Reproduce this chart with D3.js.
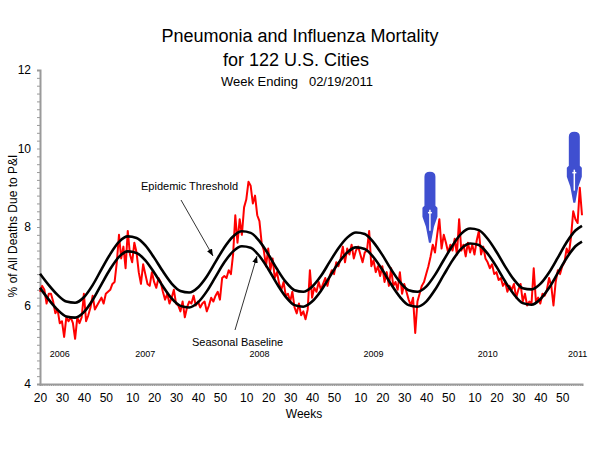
<!DOCTYPE html>
<html>
<head>
<meta charset="utf-8">
<script src="https://cdn.jsdelivr.net/npm/d3@7/dist/d3.min.js"></script>
<style>
  html, body { margin: 0; padding: 0; background: #fff; }
  #chart { width: 600px; height: 450px; }
  text { font-family: Arial, "Liberation Sans", sans-serif; }
</style>
</head>
<body>
<div id="chart"></div>
<script>
// weekly % of deaths due to P&I, starting 2006 week 20 (index 0) up to 2011 week 7
var piPct = [
  6.35, 6.50, 6.40, 6.05, 6.30, 6.30, 6.10, 5.80, 5.90, 5.55,
  5.60, 5.20, 5.70, 5.60, 5.70, 5.55, 5.15, 5.70, 5.55, 5.70,
  6.30, 5.60, 5.75, 5.95, 6.25, 5.90, 6.00, 6.10, 6.20, 6.05,
  6.30, 6.35, 6.40, 6.55, 6.60, 7.10, 7.80, 7.20, 7.50, 6.95,
  7.90, 7.30, 7.10, 7.60, 7.35, 6.85, 6.55, 7.05, 6.80, 6.55,
  6.50, 6.85, 6.60, 6.45, 6.70, 6.60, 6.35, 6.15, 6.30, 6.05,
  6.20, 6.40, 6.05, 6.00, 5.85, 6.10, 5.70, 5.95, 6.10, 6.05,
  6.25, 6.00, 6.10, 5.95, 6.05, 6.10, 5.85, 6.00, 6.20, 6.10,
  6.25, 6.35, 6.15, 6.70, 6.75, 6.70, 6.90, 6.80, 7.30, 8.30,
  7.60, 8.20, 7.80, 8.50, 8.70, 9.15, 9.05, 8.60, 8.80, 8.30,
  8.15, 7.60, 7.40, 7.00, 7.45, 6.90, 7.20, 6.70, 6.85, 6.55,
  6.40, 6.60, 6.25, 6.30, 6.10, 6.35, 5.95, 5.80, 6.05, 5.75,
  5.85, 5.65, 5.90, 6.90, 6.20, 6.45, 6.35, 6.60, 6.40, 6.55,
  6.70, 6.50, 6.75, 6.90, 6.80, 7.10, 7.00, 7.20, 7.50, 7.10,
  7.45, 7.30, 7.55, 7.20, 7.40, 7.50, 7.30, 7.10, 7.35, 7.40,
  7.90, 7.00, 7.15, 6.85, 7.00, 6.75, 7.00, 6.60, 6.85, 6.50,
  6.95, 6.50, 6.60, 6.40, 6.85, 6.30, 6.55, 6.35, 6.15, 6.00,
  6.20, 5.30, 6.10, 6.30, 6.50, 6.60, 6.80, 7.00, 7.25, 7.55,
  7.35, 7.80, 8.20, 7.45, 7.80, 7.60, 7.35, 7.55, 7.40, 7.70,
  7.30, 8.20, 7.40, 7.55, 7.25, 7.60, 7.35, 7.55, 7.30, 7.65,
  7.90, 7.30, 7.50, 7.20, 7.10, 6.95, 7.05, 6.80, 6.85, 6.65,
  6.70, 6.50, 6.60, 6.35, 6.50, 6.40, 6.55, 6.20, 6.40, 6.55,
  6.10, 6.30, 6.00, 6.10, 6.05, 6.95, 6.10, 6.20, 6.05, 6.30,
  6.25, 6.40, 6.70, 6.50, 6.00, 6.60, 6.90, 6.80, 7.00, 7.10,
  7.45, 7.30, 7.75, 8.40, 8.20, 8.10, 9.00, 8.30
];

// model curves read every 4 weeks
var modelIdx = [
  0, 4, 8, 12, 16, 20, 24, 28, 32, 36, 40, 44, 48, 52, 56, 60,
  64, 68, 72, 76, 80, 84, 88, 92, 96, 100, 104, 108, 112, 116, 120, 124,
  128, 132, 136, 140, 144, 148, 152, 156, 160, 164, 168, 172, 176, 180, 184, 188,
  192, 196, 200, 204, 208, 212, 216, 220, 224, 228, 232, 236, 240, 244, 247
];
var baseline = [
  6.45, 6.15, 5.89, 5.72, 5.69, 5.83, 6.14, 6.54, 6.93, 7.24, 7.38, 7.34, 7.15, 6.84, 6.49, 6.18,
  5.99, 5.95, 6.08, 6.36, 6.73, 7.10, 7.38, 7.51, 7.47, 7.26, 6.93, 6.55, 6.22, 6.01, 5.97, 6.10,
  6.37, 6.73, 7.08, 7.35, 7.48, 7.44, 7.23, 6.91, 6.54, 6.22, 6.01, 5.97, 6.10, 6.40, 6.78, 7.15,
  7.45, 7.58, 7.54, 7.32, 6.99, 6.61, 6.28, 6.06, 6.02, 6.16, 6.45, 6.83, 7.21, 7.51, 7.63
];
var threshold = [
  6.81, 6.52, 6.27, 6.10, 6.07, 6.21, 6.52, 6.92, 7.31, 7.62, 7.76, 7.72, 7.53, 7.22, 6.87, 6.56,
  6.37, 6.33, 6.46, 6.74, 7.11, 7.48, 7.76, 7.89, 7.85, 7.64, 7.31, 6.93, 6.60, 6.39, 6.35, 6.48,
  6.75, 7.11, 7.46, 7.73, 7.86, 7.82, 7.61, 7.29, 6.92, 6.60, 6.39, 6.35, 6.48, 6.78, 7.16, 7.53,
  7.83, 7.96, 7.92, 7.70, 7.37, 6.99, 6.66, 6.44, 6.41, 6.55, 6.84, 7.22, 7.61, 7.91, 8.03
];

var tickIdx = [0, 10, 20, 30, 42, 52, 62, 72, 82, 94, 104, 114, 124, 134,
  146, 156, 166, 176, 186, 198, 208, 218, 228, 238];
var tickLabels = ['20', '30', '40', '50', '10', '20', '30', '40', '50', '10', '20', '30', '40', '50',
  '10', '20', '30', '40', '50', '10', '20', '30', '40', '50'];
var yearIdx = [9, 48, 100, 152, 204, 245];
var yearLabels = ['2006', '2007', '2008', '2009', '2010', '2011'];
var yTicks = [4, 6, 8, 10, 12];

// blue markers: week index and value at the arrow tip
var markIdx = [177.7, 243.5];
var markTip = [7.6, 8.62];

var chart = {
  init: function () {
    var svg = d3.select('#chart').append('svg').attr('width', 600).attr('height', 450);
    this.x = d3.scaleLinear().domain([0, 247]).range([40, 582]);
    this.y = d3.scaleLinear().domain([4, 12]).range([384, 70]);
    this.titles(svg);
    this.axes(svg);
    this.lines(svg);
    this.notes(svg);
  },
  titles: function (svg) {
    svg.append('text').attr('x', 300).attr('y', 42).attr('text-anchor', 'middle')
      .style('font-size', '18px').text('Pneumonia and Influenza Mortality');
    svg.append('text').attr('x', 296).attr('y', 66).attr('text-anchor', 'middle')
      .style('font-size', '18px').text('for 122 U.S. Cities');
    svg.append('text').attr('x', 297).attr('y', 86).attr('text-anchor', 'middle')
      .style('font-size', '13px').attr('xml:space', 'preserve').text('Week Ending   02/19/2011');
    svg.append('text').attr('transform', 'translate(17,' + 226 + ') rotate(-90)')
      .attr('text-anchor', 'middle').style('font-size', '12px').text('% of All Deaths Due to P&I');
    svg.append('text').attr('x', 304).attr('y', 418).attr('text-anchor', 'middle')
      .style('font-size', '12px').text('Weeks');
  },
  axes: function (svg) {
    var x = this.x, y = this.y;
    var minor = svg.append('g').attr('transform', 'translate(40,0)')
      .call(d3.axisLeft(y).tickValues(d3.range(4, 12.01, 0.2)).tickSize(3).tickFormat(''));
    var major = svg.append('g').attr('transform', 'translate(40,0)')
      .call(d3.axisLeft(y).tickValues(yTicks).tickSize(0).tickPadding(9));
    var wk = svg.append('g').attr('transform', 'translate(0,384)')
      .call(d3.axisBottom(x).tickValues(d3.range(0, 248, 1)).tickSize(2).tickFormat(''));
    var lab = svg.append('g').attr('transform', 'translate(0,384)')
      .call(d3.axisBottom(x).tickValues(tickIdx).tickSize(0).tickPadding(9)
        .tickFormat(function (d, i) { return tickLabels[i]; }));
    [minor, major, wk, lab].forEach(function (g) {
      g.selectAll('path, line').attr('stroke', '#9a9a9a');
      g.select('.domain').attr('stroke-width', 2);
    });
    major.select('.domain').remove();
    lab.select('.domain').remove();
    major.selectAll('text').style('font-size', '12px').attr('fill', '#000');
    lab.selectAll('text').style('font-size', '12px').attr('fill', '#000');

    svg.selectAll('.year').data(yearLabels).enter().append('text')
      .attr('class', 'year')
      .attr('x', function (d, i) { return x(yearIdx[i]); })
      .attr('y', y(4.68))
      .attr('text-anchor', 'middle')
      .style('font-size', '9px')
      .text(function (d) { return d; });
  },
  lines: function (svg) {
    var x = this.x, y = this.y;
    var red = d3.line().x(function (d, i) { return x(i); }).y(function (d) { return y(d); });
    var model = d3.line().curve(d3.curveMonotoneX)
      .x(function (d, i) { return x(modelIdx[i]); }).y(function (d) { return y(d); });

    svg.append('path').datum(piPct).attr('d', red)
      .attr('fill', 'none').attr('stroke', '#ff0000').attr('stroke-width', 2).attr('stroke-linejoin', 'round');
    [baseline, threshold].forEach(function (s) {
      svg.append('path').datum(s).attr('d', model)
        .attr('fill', 'none').attr('stroke', '#000').attr('stroke-width', 2.6);
    });
  },
  notes: function (svg) {
    var x = this.x, y = this.y;
    svg.append('defs').append('marker').attr('id', 'head')
      .attr('viewBox', '0 0 10 10').attr('refX', 10).attr('refY', 5)
      .attr('markerWidth', 7).attr('markerHeight', 7).attr('orient', 'auto')
      .append('path').attr('d', 'M0,1 L10,5 L0,9 Z').attr('fill', '#000');

    svg.append('text').attr('x', 141).attr('y', 190).style('font-size', '11px').text('Epidemic Threshold');
    svg.append('line').attr('x1', 181).attr('y1', 200).attr('x2', 213).attr('y2', 256)
      .attr('stroke', '#333').attr('stroke-width', 1).attr('marker-end', 'url(#head)');
    svg.append('text').attr('x', 192).attr('y', 346).style('font-size', '11px').text('Seasonal Baseline');
    svg.append('line').attr('x1', 235).attr('y1', 330).attr('x2', 257).attr('y2', 256)
      .attr('stroke', '#333').attr('stroke-width', 1).attr('marker-end', 'url(#head)');

    markIdx.forEach(function (m, i) {
      var cx = x(m), ty = y(markTip[i]);
      var p = 'M' + (cx - 5.5) + ',' + (ty - 66) +
        ' Q' + (cx - 5.5) + ',' + (ty - 71) + ' ' + cx + ',' + (ty - 71) +
        ' Q' + (cx + 5.5) + ',' + (ty - 71) + ' ' + (cx + 5.5) + ',' + (ty - 66) +
        ' L' + (cx + 5.5) + ',' + (ty - 37) + ' L' + (cx + 7.5) + ',' + (ty - 35) +
        ' L' + (cx + 7.5) + ',' + (ty - 26) + ' L' + (cx + 4) + ',' + (ty - 16) +
        ' L' + (cx + 1) + ',' + ty + ' L' + (cx - 1) + ',' + ty +
        ' L' + (cx - 4) + ',' + (ty - 16) + ' L' + (cx - 7.5) + ',' + (ty - 26) +
        ' L' + (cx - 7.5) + ',' + (ty - 35) + ' L' + (cx - 5.5) + ',' + (ty - 37) + ' Z';
      svg.append('path').attr('d', p).attr('fill', '#3f4fd0');
      svg.append('line').attr('x1', cx).attr('y1', ty - 33).attr('x2', cx).attr('y2', ty - 12)
        .attr('stroke', '#fff').attr('stroke-width', 1.5);
      svg.append('line').attr('x1', cx - 2).attr('y1', ty - 30).attr('x2', cx + 2).attr('y2', ty - 30)
        .attr('stroke', '#fff').attr('stroke-width', 1.5);
    });
  }
};

chart.init();
</script>
</body>
</html>
